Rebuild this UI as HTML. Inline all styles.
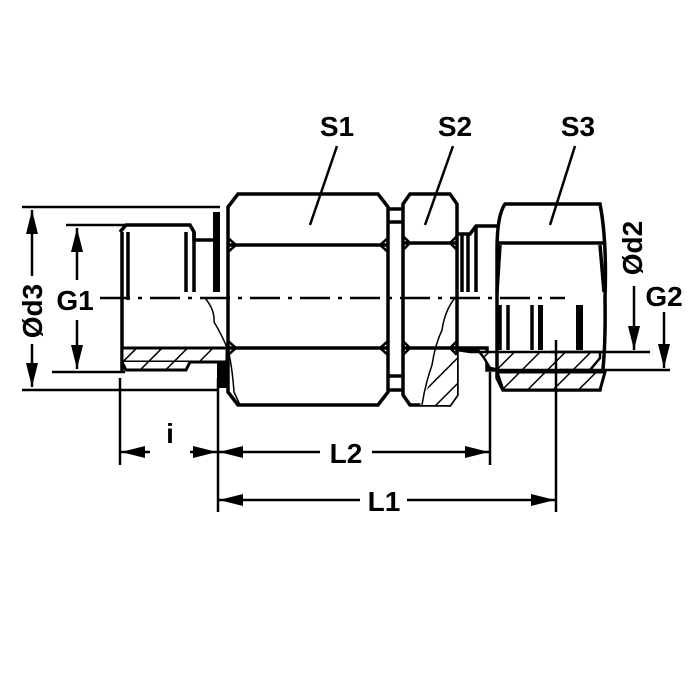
<!DOCTYPE html>
<html><head><style>body{margin:0;background:#fff}svg{display:block}</style></head><body>
<svg width="700" height="700" viewBox="0 0 700 700" xmlns="http://www.w3.org/2000/svg" font-family="Liberation Sans, Arial, sans-serif" font-weight="bold">
<defs>
<marker id="b" viewBox="0 0 24 12" refX="24" refY="6" markerWidth="24" markerHeight="12" markerUnits="userSpaceOnUse" orient="auto-start-reverse"><path d="M0,0 L24,6 L0,12z" fill="#000"/></marker>
<pattern id="h" width="18" height="18" patternUnits="userSpaceOnUse" patternTransform="rotate(45)"><rect width="18" height="18" fill="#fff"/><line x1="0" y1="0" x2="0" y2="18" stroke="#000" stroke-width="3"/></pattern>
</defs>
<g stroke="#000" fill="none" stroke-width="3.5">
<path d="M120,232 L126,225 L190,225 L194,232 L194,240 L215,240" />
<line x1="122" y1="232" x2="122" y2="372"/>
<line x1="128" y1="232" x2="128" y2="300"/>
<line x1="186" y1="232" x2="186" y2="292"/>
<line x1="194" y1="232" x2="194" y2="292"/>
<rect x="122" y="348" width="105" height="14" fill="url(#h)" stroke-width="3"/>
<path d="M122,362 L126,370 L186,370 L190,362" fill="url(#h)" stroke-width="3"/>
<rect x="213" y="212" width="7" height="80" fill="#000" stroke="none"/>
<path d="M217,362 L230,362 L232,388 L217,388 Z" fill="#000" stroke="none"/>
<path d="M238,194 L378,194 L388,207 L388,392 L378,405 L238,405 L228,392 L228,207 Z" fill="#fff"/>
<line x1="228" y1="245" x2="388" y2="245"/>
<line x1="228" y1="348" x2="388" y2="348"/>
<path d="M228,238 L236,245 L228,252 M388,238 L380,245 L388,252 M228,341 L236,348 L228,355 M388,341 L380,348 L388,355" stroke-width="2.5"/>
<path d="M388,209 L402,209 M388,222 L402,222 M388,376 L402,376 M388,390 L402,390"/>
<path d="M410,194 L450,194 L457,204 L457,395 L450,405 L410,405 L403,395 L403,204 Z" fill="#fff"/>
<line x1="403" y1="243" x2="457" y2="243"/>
<line x1="403" y1="348" x2="457" y2="348"/>
<path d="M403,236 L410,243 L403,250 M457,236 L450,243 L457,250 M403,341 L410,348 L403,355 M457,341 L450,348 L457,355" stroke-width="2.5"/>
<path d="M420,405 L440,360 L457,355 L457,395 L450,405 Z" fill="url(#h)" stroke="none"/>
<path d="M457,234 L470,234 L476,226 L497,226"/>
<line x1="462" y1="234" x2="462" y2="292"/>
<line x1="468" y1="234" x2="468" y2="292"/>
<line x1="476" y1="226" x2="476" y2="292"/>
<path d="M457,348 L487,348 L487,370 L497,370" />
<path d="M457,350 L478,350 L484,358 L490,368 L500,370 L590,370 L600,358 L600,352 L470,352Z" fill="url(#h)" stroke-width="2.5"/>
<path d="M505,204 L600,204 Q607,240 605,298 Q606,360 600,390 L503,390 L497,378 L497,250 Q497,215 505,204 Z" fill="none"/>
<path d="M497,372 L503,390 L600,390 L605,372 Z" fill="url(#h)" stroke-width="3"/>
<line x1="497" y1="243" x2="605" y2="243"/>
<line x1="500" y1="245" x2="497" y2="292"/>
<line x1="600" y1="245" x2="604" y2="292"/>
<line x1="500" y1="305" x2="500" y2="350"/>
<line x1="508" y1="305" x2="508" y2="350"/>
<line x1="532" y1="305" x2="532" y2="350"/>
<rect x="538" y="305" width="5" height="45" fill="#000" stroke="none"/>
<rect x="576" y="305" width="7" height="45" fill="#000" stroke="none"/>
<path d="M205,298 Q215,310 214,322 Q222,335 228,350 Q232,365 234,392 L240,405" stroke-width="1.5"/>
<path d="M455,298 Q445,310 442,330 Q435,345 432,365 Q425,385 422,405" stroke-width="1.5"/>
</g>
<line x1="100" y1="298" x2="565" y2="298" stroke="#000" stroke-width="2.5" stroke-dasharray="30,8,4,8"/>
<g stroke="#000" stroke-width="2.5" fill="none">
<line x1="22" y1="207" x2="220" y2="207"/>
<line x1="22" y1="390" x2="218" y2="390"/>
<line x1="66" y1="225" x2="125" y2="225"/>
<line x1="52" y1="372" x2="125" y2="372"/>
<line x1="32" y1="210" x2="32" y2="276" marker-start="url(#b)"/>
<line x1="32" y1="344" x2="32" y2="387" marker-end="url(#b)"/>
<line x1="77" y1="228" x2="77" y2="280" marker-start="url(#b)"/>
<line x1="77" y1="320" x2="77" y2="369" marker-end="url(#b)"/>
<line x1="120" y1="378" x2="120" y2="465"/>
<line x1="218" y1="378" x2="218" y2="512"/>
<line x1="490" y1="372" x2="490" y2="465"/>
<line x1="556" y1="340" x2="556" y2="512"/>
<line x1="121" y1="452" x2="150" y2="452" marker-start="url(#b)"/>
<line x1="190" y1="452" x2="217" y2="452" marker-end="url(#b)"/>
<line x1="219" y1="452" x2="320" y2="452" marker-start="url(#b)"/>
<line x1="372" y1="452" x2="489" y2="452" marker-end="url(#b)"/>
<line x1="219" y1="500" x2="360" y2="500" marker-start="url(#b)"/>
<line x1="407" y1="500" x2="555" y2="500" marker-end="url(#b)"/>
<line x1="550" y1="352" x2="650" y2="352"/>
<line x1="560" y1="370" x2="670" y2="370"/>
<line x1="634" y1="286" x2="634" y2="350" marker-end="url(#b)"/>
<line x1="664" y1="312" x2="664" y2="368" marker-end="url(#b)"/>
<line x1="337" y1="146" x2="310" y2="225"/>
<line x1="453" y1="146" x2="425" y2="225"/>
<line x1="575" y1="146" x2="550" y2="225"/>
</g>
<g font-size="28" fill="#000" text-anchor="middle">
<text x="337" y="136">S1</text>
<text x="455" y="136">S2</text>
<text x="578" y="136">S3</text>
<text x="75" y="310">G1</text>
<text x="664" y="306">G2</text>
<text x="170" y="443">i</text>
<text x="346" y="463">L2</text>
<text x="384" y="511">L1</text>
<text transform="translate(42,311) rotate(-90)">Ød3</text>
<text transform="translate(642,248) rotate(-90)">Ød2</text>
</g>
</svg>
</body></html>
